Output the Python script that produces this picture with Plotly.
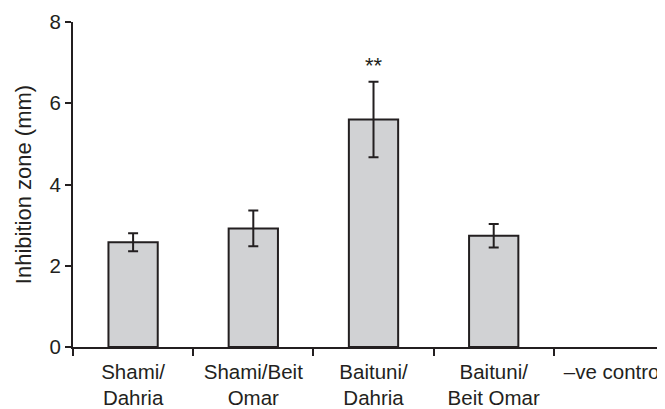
import plotly.graph_objects as go

categories = ["Shami/<br>Dahria", "Shami/Beit<br>Omar", "Baituni/<br>Dahria", "Baituni/<br>Beit Omar", "–ve control"]
values = [2.58, 2.92, 5.60, 2.74, 0.0]
errors = [0.22, 0.44, 0.93, 0.29, 0.0]
sig_labels = ["", "", "**", "", ""]
y_ticks = [0, 2, 4, 6, 8]

ink = "#231f20"
family = "Liberation Sans, Arial, sans-serif"
tick_font = dict(family=family, size=20.5, color=ink)
title_font = dict(family=family, size=22, color=ink)

# a zero-height bar (negative control) is not drawn in the reference
shown_values = [v if v > 0 else None for v in values]
shown_errors = [e if v > 0 else None for v, e in zip(values, errors)]

fig = go.Figure()
fig.add_trace(go.Bar(
    x=categories, y=shown_values, width=0.41,
    marker=dict(color="#d1d2d4", line=dict(color=ink, width=2)),
    error_y=dict(type="data", array=shown_errors, visible=True, color=ink, thickness=2, width=5),
))

for c, v, e, s in zip(categories, values, errors, sig_labels):
    if s:
        fig.add_annotation(x=c, y=v + e, text=s, showarrow=False, yanchor="bottom",
                           yshift=2, font=dict(family=family, size=22, color=ink))

# page body has an 8px margin, so the figure's origin sits at (8, 8)
fig.update_layout(
    width=657, height=401,
    margin=dict(l=65, r=0, t=14, b=60),
    paper_bgcolor="white", plot_bgcolor="white",
    font=tick_font, showlegend=False,
    xaxis=dict(type="category", categoryarray=categories, categoryorder="array",
               range=[-0.5, 4.425], showline=True, linecolor=ink, linewidth=2,
               ticks="outside", tickson="boundaries", ticklen=7, tickwidth=2, tickcolor=ink,
               ticklabelstandoff=5,
               showgrid=False, zeroline=False, tickfont=tick_font),
    yaxis=dict(range=[0, 8], tickvals=y_ticks, showline=True, linecolor=ink, linewidth=2,
               ticks="outside", ticklen=6, tickwidth=2, tickcolor=ink, showgrid=False,
               zeroline=False, tickfont=tick_font,
               title=dict(text="Inhibition zone (mm)", font=title_font, standoff=12)),
)

fig.write_html("out.html")
